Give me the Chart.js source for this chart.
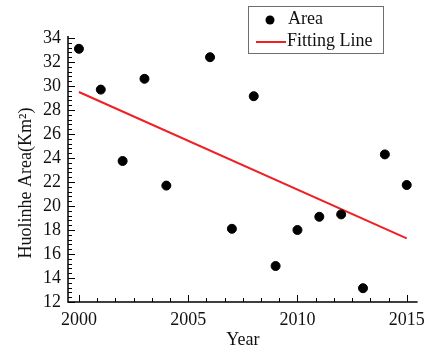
<!DOCTYPE html>
<html lang="en">
<head>
  <meta charset="UTF-8">
  <title>Huolinhe Area</title>
  <script src="https://cdn.jsdelivr.net/npm/chart.js"></script>
<style>
  html, body {
    margin: 0;
    padding: 0;
    background: #ffffff;
  }
  .chart-box {
    width: 432px;
    height: 351px;
  }
</style>
</head>
<body>
  <div class="chart-box">
    <canvas id="areaChart" width="432" height="351"></canvas>
  </div>
  <script>
    // Observed area per year (2005 missing in the source)
    const years = [2000, 2001, 2002, 2003, 2004, 2006, 2007, 2008, 2009, 2010, 2011, 2012, 2013, 2014, 2015];
    const areas = [33.1, 29.7, 23.75, 30.6, 21.7, 32.4, 18.1, 29.15, 15.0, 18.0, 19.1, 19.3, 13.15, 24.3, 21.75];

    // Fitted line end points
    const fitYears = [2000, 2015];
    const fitAreas = [29.5, 17.3];

    // Tick labels
    const xTicks = [2000, 2005, 2010, 2015];
    const yTicks = [12, 14, 16, 18, 20, 22, 24, 26, 28, 30, 32, 34];

    const serif = '"Liberation Serif", "Times New Roman", serif';
    const yTitle = 'Huolinhe Area(Km²)';

    // Axis lines with inward major/minor ticks, y title and boxed legend
    const frame = {
      id: 'frame',
      afterDatasetsDraw(chart) {
        const ctx = chart.ctx;
        const area = chart.chartArea;
        const x = chart.scales.x;
        const y = chart.scales.y;
        ctx.save();
        ctx.strokeStyle = '#000';
        ctx.lineWidth = 1.5;
        ctx.beginPath();
        ctx.moveTo(area.left, area.top - 2);
        ctx.lineTo(area.left, area.bottom);
        ctx.lineTo(area.right, area.bottom);
        ctx.stroke();

        ctx.lineWidth = 1;
        ctx.beginPath();
        // x ticks: majors every 5 years, minors every 5/6 year
        for (let i = 0; i <= 18; i++) {
          const v = 2000 + i * 5 / 6;
          const px = Math.round(x.getPixelForValue(v)) + 0.5;
          const len = i % 6 === 0 ? 7 : 4;
          ctx.moveTo(px, area.bottom);
          ctx.lineTo(px, area.bottom - len);
        }
        // y ticks: majors every 2, minors every 0.4
        for (let i = 0; i <= 55; i++) {
          const v = 12 + i * 0.4;
          const py = Math.round(y.getPixelForValue(v)) + 0.5;
          const len = i % 5 === 0 ? 7 : 4;
          ctx.moveTo(area.left, py);
          ctx.lineTo(area.left + len, py);
        }
        ctx.stroke();

        // y title, sits a bit below the plot centre like the source
        ctx.fillStyle = '#111';
        ctx.font = '18px ' + serif;
        ctx.textAlign = 'center';
        ctx.textBaseline = 'middle';
        ctx.translate(26, 183);
        ctx.rotate(-Math.PI / 2);
        ctx.fillText(yTitle, 0, 0);
        ctx.setTransform(1, 0, 0, 1, 0, 0);

        // legend
        const lx = 248, ly = 6, lw = 135, lh = 47;
        ctx.strokeStyle = '#6e6e6e';
        ctx.lineWidth = 1;
        ctx.strokeRect(lx + 0.5, ly + 0.5, lw, lh);
        const sets = chart.data.datasets;
        ctx.fillStyle = sets[0].backgroundColor;
        ctx.beginPath();
        ctx.arc(270, 20, 4.5, 0, Math.PI * 2);
        ctx.fill();
        ctx.strokeStyle = sets[1].borderColor;
        ctx.lineWidth = 2;
        ctx.beginPath();
        ctx.moveTo(256, 42);
        ctx.lineTo(286, 42);
        ctx.stroke();
        ctx.fillStyle = '#111';
        ctx.font = '18px ' + serif;
        ctx.textAlign = 'left';
        ctx.fillText(sets[0].label, 288, 19);
        ctx.fillText(sets[1].label, 287, 41);
        ctx.restore();
      }
    };

    new Chart(document.getElementById('areaChart'), {
      type: 'scatter',
      data: {
        datasets: [{
          label: 'Area',
          data: years.map((yr, i) => ({ x: yr, y: areas[i] })),
          backgroundColor: '#000',
          borderColor: '#000',
          pointRadius: 4.5,
          pointHoverRadius: 4.5
        }, {
          label: 'Fitting Line',
          data: fitYears.map((yr, i) => ({ x: yr, y: fitAreas[i] })),
          showLine: true,
          borderColor: '#ee2024',
          borderWidth: 2,
          pointRadius: 0
        }]
      },
      options: {
        responsive: false,
        animation: false,
        layout: { padding: { top: 38, right: 9, left: 0, bottom: 0 } },
        plugins: {
          legend: { display: false },
          tooltip: { enabled: false }
        },
        scales: {
          x: {
            type: 'linear',
            min: 1999.5,
            max: 2015.5,
            grid: { display: false, drawTicks: false },
            border: { display: false },
            afterBuildTicks: s => { s.ticks = xTicks.map(v => ({ value: v })); },
            afterFit: s => { s.height = 49; },
            ticks: {
              color: '#111',
              padding: 7,
              maxRotation: 0,
              autoSkip: false,
              font: { family: serif, size: 18 },
              callback: v => String(v)
            },
            title: {
              display: true,
              text: 'Year',
              color: '#111',
              font: { family: serif, size: 18 },
              padding: { top: 0, bottom: 0 }
            }
          },
          y: {
            min: 12,
            max: 34,
            grid: { display: false, drawTicks: false },
            border: { display: false },
            afterBuildTicks: s => { s.ticks = yTicks.map(v => ({ value: v })); },
            afterFit: s => { s.width = 68; },
            ticks: {
              color: '#111',
              padding: 7,
              autoSkip: false,
              font: { family: serif, size: 18 },
              callback: v => String(v)
            }
          }
        }
      },
      plugins: [frame]
    });
  </script>
</body>
</html>
